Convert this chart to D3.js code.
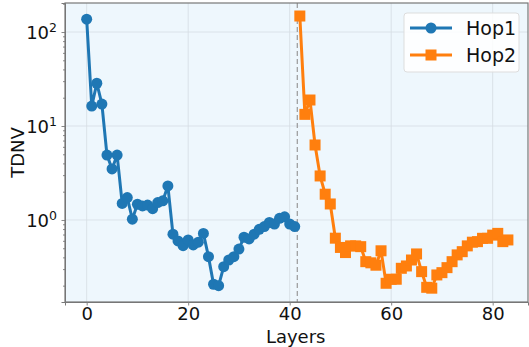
<!DOCTYPE html>
<html>
<head>
<meta charset="utf-8">
<script src="https://cdn.jsdelivr.net/npm/d3@7"></script>
<style>
  body { margin: 0; background: #fff; }
  text { font-family: "DejaVu Sans", sans-serif; }
</style>
</head>
<body>
<div id="chart"></div>
<script>
// values
var hop1 = [137, 16.3, 28.5, 17.1, 4.9, 3.49, 4.9, 1.5, 1.73, 1.02,
    1.47, 1.41, 1.44, 1.32, 1.53, 1.6, 2.3, 0.705, 0.598, 0.533,
    0.613, 0.542, 0.58, 0.72, 0.407, 0.207, 0.2, 0.318, 0.375, 0.407,
    0.49, 0.655, 0.628, 0.705, 0.796, 0.85, 0.94, 0.906, 1.04, 1.08,
    0.906, 0.85];
var hop2 = [148, 13.3, 18.9, 6.28, 2.94, 1.88, 1.48, 0.64, 0.51, 0.45,
    0.53, 0.53, 0.52, 0.36, 0.35, 0.33, 0.47, 0.212, 0.234, 0.234,
    0.306, 0.324, 0.375, 0.435, 0.282, 0.192, 0.188, 0.26, 0.275, 0.311,
    0.36, 0.425, 0.46, 0.53, 0.58, 0.588, 0.638, 0.638, 0.69, 0.72,
    0.588, 0.613];
var hopStart = 42;
var splitAt = 41.5;
var xTicks = [0, 20, 40, 60, 80];
var yTicks = [1, 10, 100];

var W = 529, H = 347;
var margin = { top: 3, right: 1, bottom: 45, left: 65 };
var width = W - margin.left - margin.right;
var height = H - margin.top - margin.bottom;

var svg = d3.select("#chart").append("svg")
    .attr("width", W).attr("height", H);
var g = svg.append("g")
    .attr("transform", "translate(" + margin.left + "," + margin.top + ")");

var x = d3.scaleLinear().domain([-4.27, 86.96]).range([0, width]);
var y = d3.scaleLog().domain([0.134, 203.6]).range([height, 0]);

g.append("rect").attr("width", width).attr("height", height).attr("fill", "#eef7fd");

// grid
g.selectAll(".gx").data(xTicks).enter().append("line")
    .attr("x1", function (d) { return x(d); }).attr("x2", function (d) { return x(d); })
    .attr("y1", 0).attr("y2", height)
    .attr("stroke", "#d5dde3").attr("stroke-width", 0.8);
g.selectAll(".gy").data(yTicks).enter().append("line")
    .attr("y1", function (d) { return y(d); }).attr("y2", function (d) { return y(d); })
    .attr("x1", 0).attr("x2", width)
    .attr("stroke", "#d5dde3").attr("stroke-width", 0.8);

// split line
g.append("line")
    .attr("x1", x(splitAt)).attr("x2", x(splitAt))
    .attr("y1", 0).attr("y2", height)
    .attr("stroke", "#999").attr("stroke-width", 1.2)
    .attr("stroke-dasharray", "5,3");

// axes
var xAxis = g.append("g").attr("transform", "translate(0," + height + ")")
    .call(d3.axisBottom(x).tickValues(xTicks).tickSize(3.5).tickPadding(2));
xAxis.selectAll("text").attr("font-size", 18).attr("fill", "#111");

var minor = [];
[0.1, 1, 10, 100].forEach(function (dec) {
    for (var k = 2; k <= 9; k++) {
        var v = dec * k;
        if (v > 0.134 && v < 203.6) minor.push(v);
    }
});
var yAxis = g.append("g")
    .call(d3.axisLeft(y).tickValues(yTicks).tickSize(3.5).tickFormat(""));
g.append("g")
    .call(d3.axisLeft(y).tickValues(minor).tickSize(2).tickFormat(""))
    .select(".domain").remove();

yAxis.selectAll(".tick").each(function (d) {
    var t = d3.select(this).append("text")
        .attr("x", -8).attr("dy", "0.36em")
        .attr("text-anchor", "end").attr("fill", "#111")
        .attr("font-size", 18);
    t.append("tspan").text("10");
    t.append("tspan").attr("dy", "-0.55em").attr("font-size", 12.5)
        .text(String(Math.round(Math.log10(d))));
});

g.selectAll(".domain").attr("stroke", "#777");
g.selectAll(".tick line").attr("stroke", "#888");

// frame
g.append("rect").attr("width", width).attr("height", height)
    .attr("fill", "none").attr("stroke", "#777").attr("stroke-width", 1.2);

// labels
svg.append("text").attr("x", margin.left + x(40) + 6).attr("y", 343)
    .attr("text-anchor", "middle").attr("font-size", 18).attr("fill", "#111")
    .text("Layers");
svg.append("text")
    .attr("transform", "translate(24," + (margin.top + height / 2) + ") rotate(-90)")
    .attr("text-anchor", "middle").attr("font-size", 18).attr("fill", "#111")
    .text("TDNV");

// series
var line = d3.line()
    .x(function (d) { return x(d.i); })
    .y(function (d) { return y(d.v); });

var s1 = hop1.map(function (v, i) { return { i: i, v: v }; });
var s2 = hop2.map(function (v, i) { return { i: i + hopStart, v: v }; });

g.append("path").datum(s1).attr("d", line)
    .attr("fill", "none").attr("stroke", "#1f77b4").attr("stroke-width", 3);
g.selectAll(".p1").data(s1).enter().append("circle")
    .attr("cx", function (d) { return x(d.i); })
    .attr("cy", function (d) { return y(d.v); })
    .attr("r", 5.5).attr("fill", "#1f77b4");

g.append("path").datum(s2).attr("d", line)
    .attr("fill", "none").attr("stroke", "#ff7f0e").attr("stroke-width", 3);
g.selectAll(".p2").data(s2).enter().append("rect")
    .attr("x", function (d) { return x(d.i) - 5.5; })
    .attr("y", function (d) { return y(d.v) - 5.5; })
    .attr("width", 11).attr("height", 11).attr("fill", "#ff7f0e");

// legend
var lg = svg.append("g").attr("transform", "translate(404,13)");
lg.append("rect").attr("width", 115).attr("height", 59).attr("rx", 3)
    .attr("fill", "#fff").attr("fill-opacity", 0.85)
    .attr("stroke", "#ddd");
var items = [
    { name: "Hop1", color: "#1f77b4", shape: "circle" },
    { name: "Hop2", color: "#ff7f0e", shape: "square" }
];
items.forEach(function (it, k) {
    var yy = 15 + k * 27;
    lg.append("line").attr("x1", 6).attr("x2", 48).attr("y1", yy).attr("y2", yy)
        .attr("stroke", it.color).attr("stroke-width", 3);
    if (it.shape == "circle") {
        lg.append("circle").attr("cx", 27).attr("cy", yy).attr("r", 5.5).attr("fill", it.color);
    } else {
        lg.append("rect").attr("x", 21.5).attr("y", yy - 5.5).attr("width", 11).attr("height", 11).attr("fill", it.color);
    }
    lg.append("text").attr("x", 62).attr("y", yy).attr("dy", "0.36em")
        .attr("font-size", 19).attr("fill", "#111").text(it.name);
});
</script>
</body>
</html>
